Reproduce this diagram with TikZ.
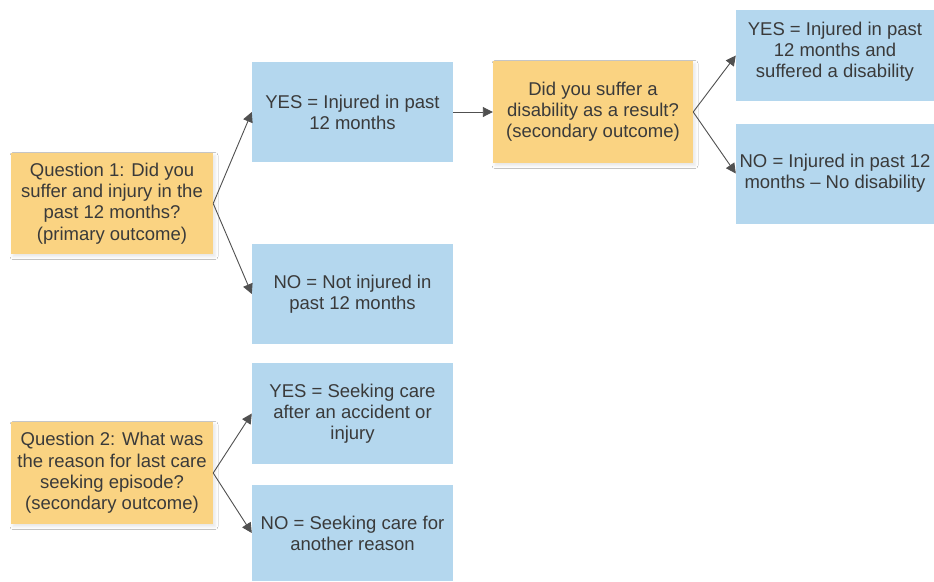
\documentclass[tikz,border=0pt]{standalone}
\usepackage{fontspec}
\setmainfont{Liberation Sans}
\usetikzlibrary{arrows.meta,shadows.blur}
\definecolor{qorange}{RGB}{250,211,130}
\definecolor{ablue}{RGB}{180,215,238}
\definecolor{txt}{RGB}{58,58,58}
\definecolor{arr}{RGB}{80,80,80}
\tikzset{
  qbox/.style={fill=qorange, draw=none, inner sep=0pt, align=center, text=txt,
    font=\fontsize{18.5}{21.2}\selectfont,
    blur shadow={shadow xshift=2pt, shadow yshift=-2.5pt, shadow blur radius=3pt, shadow opacity=10}},
  abox/.style={fill=ablue, draw=none, inner sep=0pt, align=center, text=txt,
    font=\fontsize{18.5}{21.2}\selectfont},
  link/.style={draw=arr, line width=0.9pt, -{Triangle[length=10pt,width=10pt]}}
}
\begin{document}
\begin{tikzpicture}[x=1pt,y=-1pt]
\useasboundingbox[fill=white] (0,0) rectangle (934,581);
\node[qbox, minimum width=202pt, minimum height=101pt] (q1) at (112,203.5)
  {Question 1: Did you\\suffer and injury in the\\past 12 months?\\(primary outcome)};
\node[abox, minimum width=201pt, minimum height=100pt] (yes1) at (352.5,112)
  {YES = Injured in past\\12 months};
\node[abox, minimum width=201pt, minimum height=100pt] (no1) at (352.5,294)
  {NO = Not injured in\\past 12 months};
\node[qbox, minimum width=200pt, minimum height=102pt] (dis) at (593,112)
  {Did you suffer a\\disability as a result?\\(secondary outcome)};
\node[abox, minimum width=198pt, minimum height=91pt] (yes2) at (835,55.5) {};
\node[text=txt, font=\fontsize{18.5}{21.2}\selectfont, align=center, inner sep=0pt] (yes2t) at (835,52)
  {YES = Injured in past\\12 months and\\suffered a disability};
\node[abox, minimum width=198pt, minimum height=100pt] (no2) at (835,173.5)
  {NO = Injured in past 12\\months -- No disability};
\node[qbox, minimum width=202pt, minimum height=102pt] (q2) at (112,473)
  {Question 2: What was\\the reason for last care\\seeking episode?\\(secondary outcome)};
\node[abox, minimum width=201pt, minimum height=101pt] (yes3) at (352.5,413.5)
  {YES = Seeking care\\after an accident or\\injury};
\node[abox, minimum width=201pt, minimum height=96pt] (no3) at (352.5,533)
  {NO = Seeking care for\\another reason};
\draw[link] (q1.east) -- (yes1.west);
\draw[link] (q1.east) -- (no1.west);
\draw[link] (yes1.east) -- (dis.west);
\draw[link] (dis.east) -- (yes2.west);
\draw[link] (dis.east) -- (no2.west);
\draw[link] (q2.east) -- (yes3.west);
\draw[link] (q2.east) -- (no3.west);
\end{tikzpicture}
\end{document}
